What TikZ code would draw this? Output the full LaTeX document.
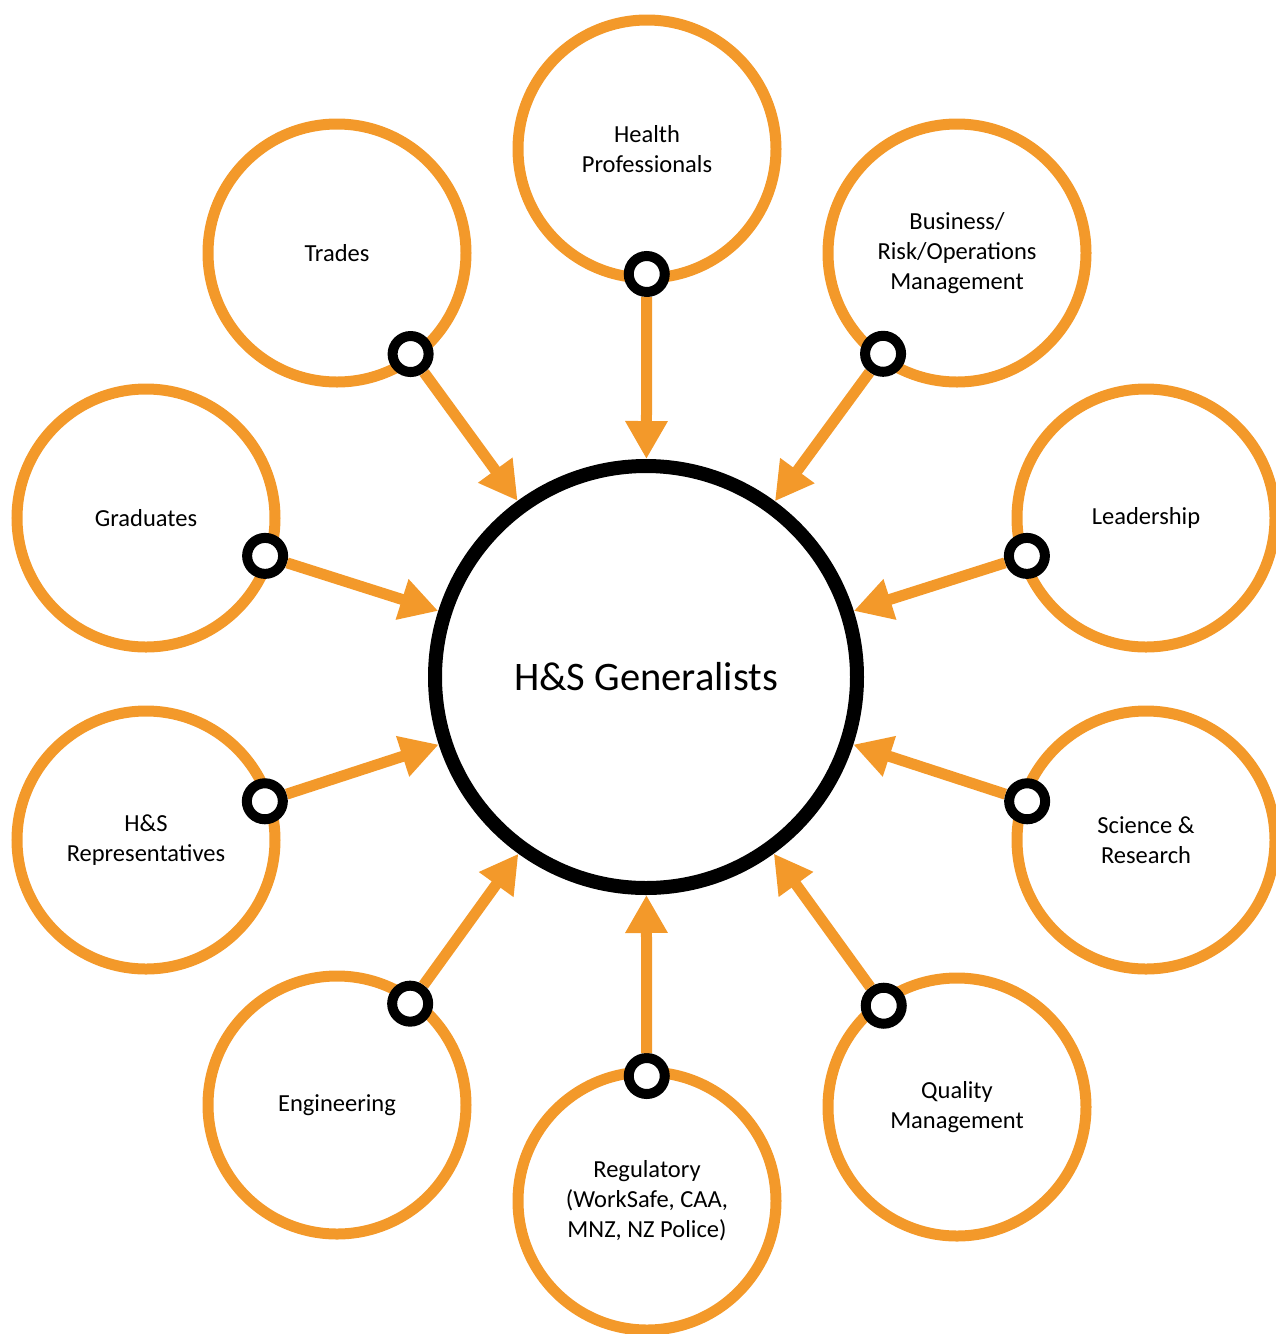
\documentclass[tikz,border=0pt]{standalone}
\usepackage{fontspec}
\setmainfont{Carlito}
\usetikzlibrary{arrows.meta,calc}
\definecolor{oo}{RGB}{243, 153, 42}
\definecolor{kk}{RGB}{0, 0, 0}

\begin{document}
\begin{tikzpicture}[
  group/.style={circle, minimum size=258pt, inner sep=0pt, draw=oo, line width=11pt, align=center, font=\fontsize{24.5pt}{30pt}\selectfont},
  core/.style={circle, minimum size=422pt, inner sep=0pt, draw=kk, line width=14pt, font=\fontsize{40.5pt}{48pt}\selectfont},
  port/.style={circle, minimum size=36pt, inner sep=0pt, draw=kk, line width=10pt, fill=white},
  feed/.style={draw=oo, line width=11pt, -{Triangle[width=40pt,length=38pt]}}]
\useasboundingbox (0pt,0pt) rectangle (1276pt,-1334pt);
\node (0) [core] at (646pt, -677pt) {H\&S Generalists};
\node (1) [group] at (647pt, -149pt) {Health\\Professionals};
\node (2) [group] at (957pt, -253pt) {Business/\\Risk/Operations\\Management};
\node (3) [group] at (1146pt, -518pt) {Leadership};
\node (4) [group] at (1146pt, -840pt) {Science \&\\Research};
\node (5) [group] at (957pt, -1107pt) {Quality\\Management};
\node (6) [group] at (647pt, -1201pt) {Regulatory\\(WorkSafe, CAA,\\MNZ, NZ Police)};
\node (7) [group] at (337pt, -1105pt) {Engineering};
\node (8) [group] at (146pt, -840pt) {H\&S\\Representatives};
\node (9) [group] at (146pt, -518pt) {Graduates};
\node (10) [group] at (337pt, -253pt) {Trades};
% ports on the rims
\node (p1) [port] at ($(1)!125pt!(0)$) {};
\node (p2) [port] at ($(2)!125pt!(0)$) {};
\node (p3) [port] at ($(3)!125pt!(0)$) {};
\node (p4) [port] at ($(4)!125pt!(0)$) {};
\node (p5) [port] at ($(5)!125pt!(0)$) {};
\node (p6) [port] at ($(6)!125pt!(0)$) {};
\node (p7) [port] at ($(7)!125pt!(0)$) {};
\node (p8) [port] at ($(8)!125pt!(0)$) {};
\node (p9) [port] at ($(9)!125pt!(0)$) {};
\node (p10) [port] at ($(10)!125pt!(0)$) {};
\draw [feed] (p1) to (0);
\draw [feed] (p2) to (0);
\draw [feed] (p3) to (0);
\draw [feed] (p4) to (0);
\draw [feed] (p5) to (0);
\draw [feed] (p6) to (0);
\draw [feed] (p7) to (0);
\draw [feed] (p8) to (0);
\draw [feed] (p9) to (0);
\draw [feed] (p10) to (0);
\end{tikzpicture}
\end{document}
